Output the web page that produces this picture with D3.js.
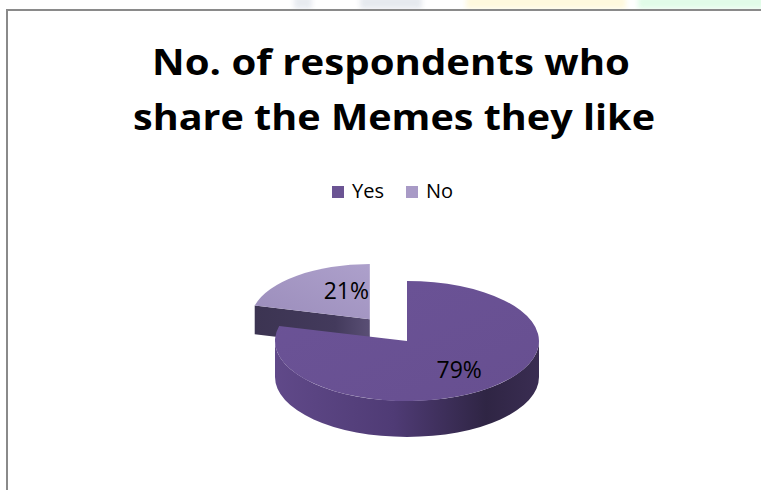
<!DOCTYPE html>
<html>
<head>
<meta charset="utf-8">
<script src="https://cdn.jsdelivr.net/npm/d3@7"></script>
<style>
  html, body { margin: 0; padding: 0; background: #ffffff; }
  svg { display: block; }
</style>
</head>
<body>
<svg id="chart" width="761" height="490"></svg>
<script>
// ---- data ----
const categories = ["Yes", "No"];
const values = [79, 21];
const titleLines = ["No. of respondents who", "share the Memes they like"];

// ---- styles ----
const legendColors = ["#6b5493", "#a89ac6"];

const svg = d3.select("#chart");
const W = 761, H = 490;
const defs = svg.append("defs");
defs.append("filter").attr("id", "soft").attr("x", "-20%").attr("y", "-50%").attr("width", "140%").attr("height", "200%")
  .append("feGaussianBlur").attr("stdDeviation", 2.5);

// faint watermark band above the frame
const band = svg.append("g").attr("filter", "url(#soft)").attr("opacity", 0.85);
band.append("rect").attr("x", 294).attr("y", -4).attr("width", 18).attr("height", 13).attr("fill", "#e4e8ee");
band.append("rect").attr("x", 360).attr("y", -4).attr("width", 62).attr("height", 13).attr("fill", "#e2e6ec");
band.append("rect").attr("x", 466).attr("y", -4).attr("width", 160).attr("height", 13).attr("fill", "#fff8d8");
band.append("rect").attr("x", 638).attr("y", -4).attr("width", 130).attr("height", 13).attr("fill", "#dcfce4");
svg.append("rect").attr("x", 0).attr("y", 9).attr("width", W).attr("height", H - 9).attr("fill", "#ffffff");

// frame
svg.append("rect").attr("x", 6).attr("y", 9).attr("width", W - 6).attr("height", 2).attr("fill", "#8a8a8a");
svg.append("rect").attr("x", 6).attr("y", 9).attr("width", 2).attr("height", H - 9).attr("fill", "#8a8a8a");

// title
const title = svg.append("g").attr("font-family", "'Open Sans', 'DejaVu Sans', sans-serif")
  .attr("font-weight", "bold").attr("font-size", 35).attr("fill", "#000");
const titleSpecs = [{x: 391, y: 75, w: 478}, {x: 394, y: 130, w: 522}];
titleLines.forEach((t, i) => {
  title.append("text").attr("x", titleSpecs[i].x).attr("y", titleSpecs[i].y)
    .attr("text-anchor", "middle")
    .attr("textLength", titleSpecs[i].w).attr("lengthAdjust", "spacingAndGlyphs")
    .text(t);
});

// legend
const legend = svg.append("g").attr("font-family", "'Open Sans', sans-serif").attr("font-size", 20);
const legX = [332, 406];
categories.forEach((c, i) => {
  legend.append("rect").attr("x", legX[i]).attr("y", 186).attr("width", 12).attr("height", 12)
    .attr("fill", legendColors[i]);
  legend.append("text").attr("x", legX[i] + 20).attr("y", 198).attr("fill", "#000").text(c);
});

// ---- 3D pie ----
const pie = d3.pie().sort(null).value(d => d).startAngle(0).endAngle(2 * Math.PI);
const arcs = pie(values);

const base = {cx: 407, cy: 341, rx: 132, ry: 60, depth: 36};
const explodeIdx = 1;      // "No" slice is pulled out
const explodeK = 0.46;
const farScale = 0.9;      // exploded slice sits further back

function geom(a, i) {
  let g = Object.assign({}, base);
  if (i === explodeIdx) {
    const mid = (a.startAngle + a.endAngle) / 2;
    g.cx = base.cx + explodeK * base.rx * Math.sin(mid);
    g.cy = base.cy - explodeK * base.ry * Math.cos(mid);
    g.rx = base.rx * farScale;
    g.ry = base.ry * farScale * 1.02;
    g.depth = base.depth * 0.8;
  }
  return g;
}
function pt(g, ang, dy) {
  return [g.cx + g.rx * Math.sin(ang), g.cy - g.ry * Math.cos(ang) + (dy || 0)];
}
function topPath(g, a0, a1) {
  const p0 = pt(g, a0), p1 = pt(g, a1);
  const large = (a1 - a0) > Math.PI ? 1 : 0;
  return `M${g.cx},${g.cy}L${p0[0]},${p0[1]}A${g.rx},${g.ry} 0 ${large} 1 ${p1[0]},${p1[1]}Z`;
}
function outerWall(g, a0, a1) {
  const s = Math.max(a0, Math.PI / 2), e = Math.min(a1, 3 * Math.PI / 2);
  if (s >= e) return null;
  const p0 = pt(g, s), p1 = pt(g, e), q1 = pt(g, e, g.depth), q0 = pt(g, s, g.depth);
  const large = (e - s) > Math.PI ? 1 : 0;
  return `M${p0[0]},${p0[1]}A${g.rx},${g.ry} 0 ${large} 1 ${p1[0]},${p1[1]}` +
         `L${q1[0]},${q1[1]}A${g.rx},${g.ry} 0 ${large} 0 ${q0[0]},${q0[1]}Z`;
}
function radialWall(g, ang) {
  const p = pt(g, ang);
  return `M${g.cx},${g.cy}L${p[0]},${p[1]}L${p[0]},${p[1] + g.depth}L${g.cx},${g.cy + g.depth}Z`;
}

const gBig = defs.append("linearGradient").attr("id", "wallBig").attr("x1", 0).attr("x2", 1).attr("y1", 0).attr("y2", 0);
[["0", "#604989"], ["0.45", "#4f3b75"], ["0.8", "#2f2544"], ["1", "#3a2d52"]].forEach(s =>
  gBig.append("stop").attr("offset", s[0]).attr("stop-color", s[1]));
const gSmall = defs.append("linearGradient").attr("id", "wallSmall").attr("x1", 0).attr("x2", 1).attr("y1", 0).attr("y2", 0);
[["0", "#3c3452"], ["0.7", "#433a5c"], ["1", "#5a4f75"]].forEach(s =>
  gSmall.append("stop").attr("offset", s[0]).attr("stop-color", s[1]));
const gTopSmall = defs.append("linearGradient").attr("id", "topSmall").attr("x1", 0).attr("x2", 1).attr("y1", 1).attr("y2", 0);
[["0", "#9b8dbb"], ["1", "#ada0cb"]].forEach(s =>
  gTopSmall.append("stop").attr("offset", s[0]).attr("stop-color", s[1]));
const gTopBig = defs.append("linearGradient").attr("id", "topBig").attr("x1", 0).attr("x2", 1).attr("y1", 0).attr("y2", 1);
[["0", "#6b5397"], ["1", "#674f90"]].forEach(s =>
  gTopBig.append("stop").attr("offset", s[0]).attr("stop-color", s[1]));

const pieG = svg.append("g");
// draw exploded (back) slice first
const order = [1, 0];
order.forEach(i => {
  const a = arcs[i];
  const g = geom(a, i);
  const grp = pieG.append("g");
  if (i === explodeIdx) {
    grp.append("path").attr("d", radialWall(g, a.startAngle)).attr("fill", "url(#wallSmall)");
    const ow = outerWall(g, a.startAngle, a.endAngle);
    if (ow) grp.append("path").attr("d", ow).attr("fill", "url(#wallSmall)");
    grp.append("path").attr("d", topPath(g, a.startAngle, a.endAngle)).attr("fill", "url(#topSmall)");
  } else {
    const ow = outerWall(g, a.startAngle, a.endAngle);
    if (ow) grp.append("path").attr("d", ow).attr("fill", "url(#wallBig)");
    grp.append("path").attr("d", topPath(g, a.startAngle, a.endAngle)).attr("fill", "url(#topBig)");
  }
});

// labels
const labels = svg.append("g").attr("font-family", "'Open Sans', sans-serif").attr("font-size", 23)
  .attr("fill", "#000").attr("text-anchor", "middle");
const labelK = [0.62, 0.35];
const labelShift = [[2, 0], [2, -13]];
arcs.forEach((a, i) => {
  const g = geom(a, i);
  const mid = (a.startAngle + a.endAngle) / 2;
  const p = [g.cx + labelK[i] * g.rx * Math.sin(mid) + labelShift[i][0],
             g.cy - labelK[i] * g.ry * Math.cos(mid) + labelShift[i][1]];
  labels.append("text").attr("x", p[0]).attr("y", p[1]).attr("dy", "0.35em")
    .text(Math.round(a.value / d3.sum(values) * 100) + "%");
});
</script>
</body>
</html>
